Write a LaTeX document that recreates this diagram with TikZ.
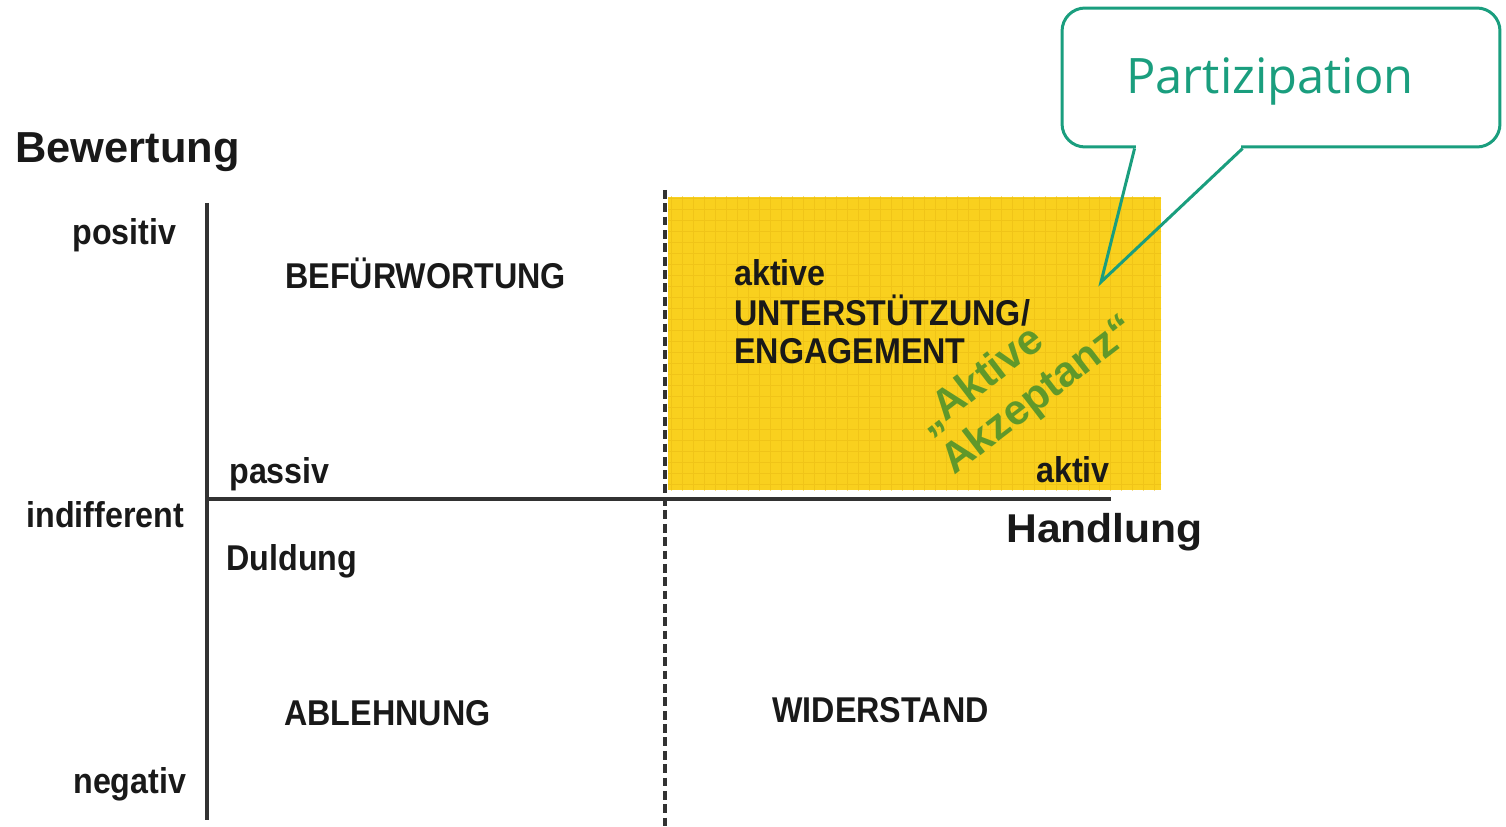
\documentclass[tikz,border=0pt]{standalone}
\usepackage{fontspec}
\setmainfont{Liberation Sans}
\newfontfamily\narrowsans[FakeStretch=0.9]{Liberation Sans}
\newfontfamily\widesans[FakeStretch=1.06]{Liberation Sans}
\newfontfamily\callfont{Open Sans}
\usetikzlibrary{calc}
\definecolor{axisgray}{RGB}{50,50,50}
\definecolor{fieldyellow}{RGB}{249,208,30}
\definecolor{gridyellow}{RGB}{232,186,20}
\definecolor{callteal}{RGB}{26,158,126}
\definecolor{accgreen}{RGB}{96,152,42}
\begin{document}
\begin{tikzpicture}[x=0.02cm,y=-0.02cm,
  lbl/.style={font=\narrowsans\bfseries\fontsize{20.4pt}{24pt}\selectfont,
              text=black!90, inner sep=0pt, anchor=base west},
  axistitle/.style={font=\bfseries\fontsize{24.7pt}{28pt}\selectfont,
              text=black!90, inner sep=0pt, anchor=base west},
  axisline/.style={draw=axisgray, line width=2pt},
  divider/.style={draw=axisgray, line width=1.8pt, dash pattern=on 5pt off 2.6pt},
  accent/.style={font=\bfseries\fontsize{24.2pt}{28pt}\selectfont,
              text=accgreen, inner sep=0pt, anchor=base west, rotate=37.5},
  callbox/.style={draw=callteal, line width=1.7pt, rounded corners=0.46cm,
              fill=white, minimum width=8.76cm, minimum height=2.78cm, inner sep=0pt},
  callline/.style={draw=callteal, line width=1.7pt, line join=miter}
]
\useasboundingbox (0,0) rectangle (1506,827);

% active / positive field with its fine grid
\fill[fieldyellow] (668,197) rectangle (1161,490);
\begin{scope}
  \clip (668,197) rectangle (1161,490);
  \draw[gridyellow, line width=0.35pt, opacity=0.5] (660,190) grid[step=0.22cm] (1170,500);
\end{scope}

% axes and the passive/active divider
\coordinate (vtop) at (207,203);
\coordinate (vbot) at (207,820);
\coordinate (hleft) at (207,499);
\coordinate (hright) at (1111,499);
\coordinate (dtop) at (665,190);
\coordinate (dbot) at (665,826);
\draw[divider] (dtop) -- (dbot);
\draw[axisline] (vtop) -- (vbot);
\draw[axisline] (hleft) -- (hright);

% axis titles
\node[axistitle] (bewertung) at (15,163) {Bewertung};
\node[axistitle, font=\widesans\bfseries\fontsize{22.9pt}{26pt}\selectfont] (handlung) at (1006,542) {Handlung};

% evaluation scale
\node[lbl] (positiv) at (72,245) {positiv};
\node[lbl] (indifferent) at (26,527) {indifferent};
\node[lbl] (negativ) at (73,793) {negativ};

% action scale
\node[lbl] (passiv) at (229,483) {passiv};
\node[lbl] (aktiv) at (1036,482) {aktiv};

% quadrant labels
\node[lbl] (befuerwortung) at (285,289) {BEFÜRWORTUNG};
\node[lbl] (aktive) at (734,285) {aktive};
\node[lbl] (unterstuetzung) at (734,325) {UNTERSTÜTZUNG/};
\node[lbl] (engagement) at (734,363) {ENGAGEMENT};
\node[lbl] (duldung) at (226,570) {Duldung};
\node[lbl] (ablehnung) at (284,725) {ABLEHNUNG};
\node[lbl] (widerstand) at (772,722) {WIDERSTAND};

% slanted accent text
\node[accent] (akzline1) at (928,436) {„Aktive};
\node[accent] (akzline2) at (954,476) {Akzeptanz“};

% speech bubble
\node[callbox] (callout) at (1281,77.5) {};
\node[font=\callfont\fontsize{27.8pt}{32pt}\selectfont, text=callteal, inner sep=0pt, anchor=base] (partizipation) at (1270,94) {Partizipation};
\coordinate (tip) at (1101,282);
\coordinate (pleft) at ($(callout.south west)+(74,0)$);
\coordinate (pright) at ($(callout.south west)+(182,0)$);
\fill[white] ($(pleft)+(1.5,-4)$) rectangle ($(pright)+(-1.5,4)$);
\draw[callline] (pleft) -- (tip) -- (pright);
\end{tikzpicture}
\end{document}
